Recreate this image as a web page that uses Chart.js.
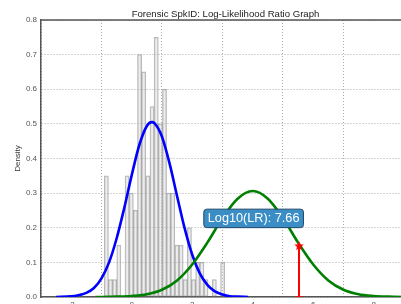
<!DOCTYPE html>
<html>
<head>
<meta charset="utf-8">
<script src="https://cdn.jsdelivr.net/npm/chart.js@4.4.1/dist/chart.umd.min.js"></script>
<style>
  html, body { margin: 0; padding: 0; overflow: hidden; background: #fff; }
  canvas { display: block; }
</style>
</head>
<body>
<canvas id="llrChart" width="451" height="320"></canvas>
<script>
// same-speaker score histogram (bin centres, density)
const binCenters = [-0.839, -0.702, -0.564, -0.427, -0.290, -0.153, -0.015, 0.122, 0.259, 0.397,
  0.534, 0.671, 0.809, 0.946, 1.083, 1.221, 1.358, 1.495, 1.632, 1.770,
  1.907, 2.044, 2.182, 2.319, 2.456, 2.594, 2.731, 2.868, 3.006];
const binDensity = [0.35, 0.05, 0.05, 0.15, 0.00, 0.35, 0.30, 0.25, 0.70, 0.65,
  0.35, 0.55, 0.75, 0.50, 0.60, 0.30, 0.30, 0.15, 0.15, 0.05,
  0.20, 0.05, 0.10, 0.10, 0.05, 0.00, 0.05, 0.00, 0.10];

// same-speaker fitted density (blue)
const sameX = [-2.5, -2.0, -1.5, -1.25, -1.0, -0.75, -0.5, -0.25, 0.0, 0.25, 0.5, 0.67, 0.75,
  1.0, 1.25, 1.5, 1.75, 2.0, 2.25, 2.5, 2.75, 3.0, 3.25, 3.5, 3.85];
const sameY = [0.000, 0.002, 0.012, 0.026, 0.054, 0.100, 0.169, 0.256, 0.352, 0.439, 0.494, 0.505, 0.502,
  0.463, 0.386, 0.291, 0.198, 0.122, 0.068, 0.035, 0.016, 0.007, 0.002, 0.001, 0.000];

// different-speaker fitted density (green)
const diffX = [-1.2, -1.0, -0.5, 0.0, 0.5, 1.0, 1.5, 2.0, 2.5, 3.0, 3.5, 4.0,
  4.5, 5.0, 5.5, 6.0, 6.5, 7.0, 7.5, 8.0, 8.5, 9.0, 9.2];
const diffY = [0.000, 0.000, 0.001, 0.003, 0.008, 0.021, 0.048, 0.094, 0.157, 0.228, 0.284, 0.306,
  0.284, 0.228, 0.157, 0.094, 0.048, 0.021, 0.008, 0.003, 0.001, 0.000, 0.000];

// evidence score marker
const evidenceScore = 5.53;
const evidenceDensity = 0.147;
const lrText = 'Log10(LR): 7.66';
const lrBoxX = 4.03;
const lrBoxY = 0.227;

const titleText = 'Forensic SpkID: Log-Likelihood Ratio Graph';
const xTicks = [-2, 0, 2, 4, 6, 8];
const yTicks = [0.0, 0.1, 0.2, 0.3, 0.4, 0.5, 0.6, 0.7, 0.8];

const fontFamily = '"Liberation Sans", Arial, sans-serif';

function zip(xs, ys) {
  return xs.map((x, i) => ({ x: x, y: ys[i] }));
}

// filled star like matplotlib's '*' marker
function makeStar(r, color) {
  const c = document.createElement('canvas');
  c.width = c.height = Math.ceil(r * 2 + 2);
  const g = c.getContext('2d');
  g.translate(c.width / 2, c.height / 2);
  g.beginPath();
  for (let i = 0; i < 10; i++) {
    const rad = i % 2 === 0 ? r : r * 0.42;
    const a = -Math.PI / 2 + i * Math.PI / 5;
    g.lineTo(rad * Math.cos(a), rad * Math.sin(a));
  }
  g.closePath();
  g.fillStyle = color;
  g.fill();
  return c;
}

// top spine of the axes box + title centred over the axes
const axesTop = {
  id: 'axesTop',
  beforeDatasetsDraw(chart) {
    const { ctx, chartArea } = chart;
    ctx.save();
    ctx.strokeStyle = '#555';
    ctx.lineWidth = 1.5;
    ctx.beginPath();
    ctx.moveTo(chartArea.left, chartArea.top);
    ctx.lineTo(chartArea.right, chartArea.top);
    ctx.stroke();
    ctx.fillStyle = '#222';
    ctx.font = '9.6px ' + fontFamily;
    ctx.textAlign = 'center';
    ctx.textBaseline = 'alphabetic';
    ctx.fillText(titleText, (chartArea.left + chartArea.right) / 2, chartArea.top - 3.4);
    ctx.restore();
  }
};

// rounded text box with the LR value
const lrLabel = {
  id: 'lrLabel',
  afterDatasetsDraw(chart) {
    const { ctx, scales } = chart;
    const cx = scales.x.getPixelForValue(lrBoxX);
    const cy = scales.y.getPixelForValue(lrBoxY);
    ctx.save();
    ctx.font = '12.7px ' + fontFamily;
    const w = ctx.measureText(lrText).width + 8;
    const h = 18.5;
    ctx.beginPath();
    ctx.roundRect(cx - w / 2, cy - h / 2, w, h, 3);
    ctx.fillStyle = '#3b8dc5';
    ctx.fill();
    ctx.strokeStyle = '#1f4a68';
    ctx.lineWidth = 1;
    ctx.stroke();
    ctx.fillStyle = '#fff';
    ctx.textAlign = 'center';
    ctx.textBaseline = 'middle';
    ctx.fillText(lrText, cx, cy + 0.5);
    ctx.restore();
  }
};

const ctx = document.getElementById('llrChart');

new Chart(ctx, {
  type: 'bar',
  data: {
    datasets: [
      {
        type: 'line',
        label: 'evidence',
        data: [{ x: evidenceScore, y: 0 }, { x: evidenceScore, y: evidenceDensity }],
        borderColor: '#ff0000',
        borderWidth: 2,
        pointStyle: ['line', makeStar(5, '#ff0000')],
        pointRadius: [4, 6],
        pointBorderWidth: 1.5,
        pointBorderColor: '#ff0000',
        pointBackgroundColor: '#ff0000',
        order: 0
      },
      {
        type: 'line',
        label: 'different speaker',
        data: zip(diffX, diffY),
        borderColor: '#008000',
        borderWidth: 2.6,
        pointRadius: 0,
        cubicInterpolationMode: 'monotone',
        fill: false,
        order: 1
      },
      {
        type: 'line',
        label: 'same speaker',
        data: zip(sameX, sameY),
        borderColor: '#0000ff',
        borderWidth: 2.6,
        pointRadius: 0,
        cubicInterpolationMode: 'monotone',
        fill: false,
        order: 2
      },
      {
        type: 'bar',
        label: 'same speaker scores',
        data: zip(binCenters, binDensity),
        backgroundColor: 'rgba(215, 215, 215, 0.45)',
        borderColor: 'rgba(120, 120, 120, 0.55)',
        borderWidth: 0.8,
        borderSkipped: false,
        barPercentage: 1,
        categoryPercentage: 1,
        order: 3
      }
    ]
  },
  options: {
    responsive: false,
    animation: false,
    devicePixelRatio: 1,
    layout: { padding: { left: 0, right: 41, top: 20, bottom: 0 } },
    plugins: {
      legend: { display: false },
      tooltip: { enabled: false },
      title: { display: false }
    },
    scales: {
      x: {
        type: 'linear',
        min: -3,
        max: 9.2,
        offset: false,
        afterFit: (scale) => { scale.height = 23; },
        afterBuildTicks: (scale) => { scale.ticks = xTicks.map(v => ({ value: v })); },
        ticks: {
          padding: 3,
          color: '#555',
          font: { family: fontFamily, size: 8 },
          callback: (v) => String(v)
        },
        grid: { color: '#aaa', lineWidth: 1, drawTicks: false },
        border: { color: '#555', width: 1.5, dash: [1, 2] }
      },
      y: {
        min: 0,
        max: 0.8,
        afterFit: (scale) => { scale.width = 41; },
        afterBuildTicks: (scale) => { scale.ticks = yTicks.map(v => ({ value: v })); },
        ticks: {
          padding: 4,
          color: '#555',
          font: { family: fontFamily, size: 8 },
          callback: (v) => Number(v).toFixed(1)
        },
        grid: { color: '#aaa', lineWidth: 1, drawTicks: false },
        border: { color: '#555', width: 1.5, dash: [1, 2] },
        title: {
          display: true,
          text: 'Density',
          color: '#333',
          font: { family: fontFamily, size: 8 },
          padding: { top: 13, bottom: 0 }
        }
      }
    }
  },
  plugins: [axesTop, lrLabel]
});
</script>
</body>
</html>
